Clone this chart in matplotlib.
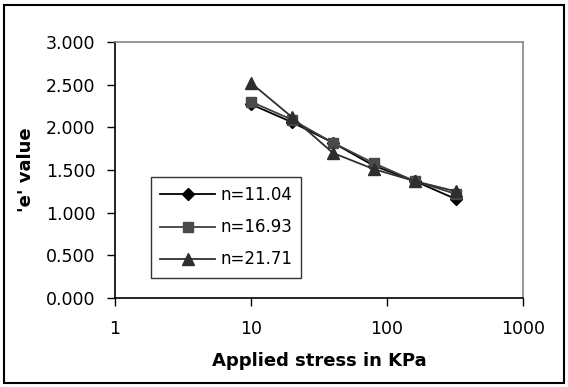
import matplotlib
matplotlib.use("Agg")
import matplotlib.pyplot as plt
from matplotlib.patches import Rectangle
from matplotlib.ticker import FixedLocator, FixedFormatter, NullLocator

stress = [10, 20, 40, 80, 160, 320]
e_1104 = [2.27, 2.06, 1.82, 1.55, 1.37, 1.16]
e_1693 = [2.30, 2.09, 1.82, 1.58, 1.37, 1.22]
e_2171 = [2.52, 2.12, 1.70, 1.51, 1.37, 1.25]
labels = ["n=11.04", "n=16.93", "n=21.71"]
yticks = [0.0, 0.5, 1.0, 1.5, 2.0, 2.5, 3.0]
xticks = [1, 10, 100, 1000]

plt.rcParams['font.family'] = ['DejaVu Sans']

W, H = 568, 387
fig = plt.figure(figsize=(W/100, H/100), dpi=100)
fig.patches.append(Rectangle((4/W, 4/H), 560/W, 378/H, transform=fig.transFigure,
                             fill=False, edgecolor='black', linewidth=1.5))

ax = fig.add_axes([115/W, 1 - 298/H, (523-115)/W, (298-42)/H])
ax.plot(stress, e_1104, color='black', marker='D', markersize=6, linewidth=1.3,
        markerfacecolor='black', markeredgecolor='black', label=labels[0])
ax.plot(stress, e_1693, color='#404040', marker='s', markersize=7, linewidth=1.3,
        markerfacecolor='#4a4a4a', markeredgecolor='#4a4a4a', label=labels[1])
ax.plot(stress, e_2171, color='#303030', marker='^', markersize=8, linewidth=1.3,
        markerfacecolor='#2e2e2e', markeredgecolor='#2e2e2e', label=labels[2])

ax.set_xscale('log')
ax.set_xlim(1, 1000)
ax.set_ylim(0, 3.0)
ax.xaxis.set_major_locator(FixedLocator(xticks))
ax.xaxis.set_major_formatter(FixedFormatter([str(x) for x in xticks]))
ax.xaxis.set_minor_locator(NullLocator())
ax.set_yticks(yticks)
ax.set_yticklabels([f"{v:.3f}" for v in yticks])
ax.tick_params(axis='both', direction='out', length=6, width=1, labelsize=12.5, colors='black')
ax.tick_params(axis='x', pad=10)
ax.tick_params(axis='y', pad=8)

for s in ['top', 'right']:
    ax.spines[s].set_color('#888888')
    ax.spines[s].set_linewidth(1.2)
for s in ['left', 'bottom']:
    ax.spines[s].set_color('black')
    ax.spines[s].set_linewidth(1.2)

ax.set_xlabel("Applied stress in KPa", fontsize=13, fontweight='bold', labelpad=10)
ax.set_ylabel("'e' value", fontsize=13, fontweight='bold', labelpad=8)

leg = ax.legend(loc='upper left', bbox_to_anchor=((151-115)/408, (298-177)/256),
                frameon=True, fancybox=False, edgecolor='black', fontsize=12,
                handlelength=3.3, borderpad=0.55, labelspacing=0.85, handletextpad=0.3,
                borderaxespad=0)
leg.get_frame().set_linewidth(1.0)

fig.savefig("out.png", dpi=100)
